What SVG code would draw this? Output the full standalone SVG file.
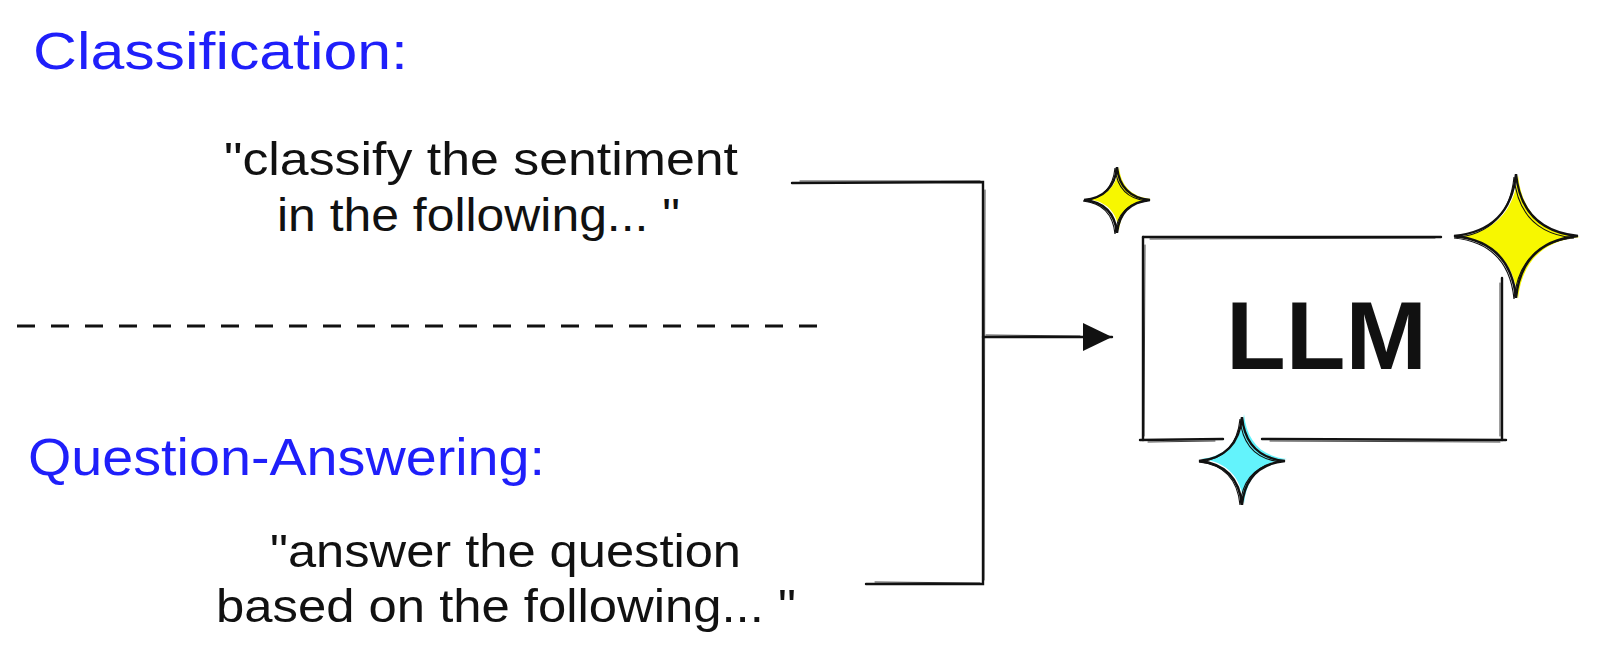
<svg xmlns="http://www.w3.org/2000/svg" xmlns:xlink="http://www.w3.org/1999/xlink" width="1597" height="659" viewBox="0 0 1597 659">
<style>
.bg{fill:#ffffff}
.ln{fill:none;stroke:#111;stroke-width:2.4;stroke-linecap:round}
.ln2{fill:none;stroke:#111;stroke-width:1;stroke-linecap:round;opacity:0.8}
.head{font-family:"Liberation Sans","DejaVu Sans",sans-serif;font-size:52px;fill:#1f1ffa}
.txt{font-family:"Liberation Sans","DejaVu Sans",sans-serif;font-size:46px;fill:#111}
.llm{font-family:"Liberation Sans","DejaVu Sans",sans-serif;font-size:96px;font-weight:bold;fill:#111}
.dash{fill:none;stroke:#111;stroke-width:3;stroke-dasharray:18 16}
.sfill{stroke:none}
.sline{fill:none;stroke:#111;stroke-width:2.4}
.sline2{fill:none;stroke:#111;stroke-width:1.1}
</style>
<defs>
<path id="star" vector-effect="non-scaling-stroke" d="M0,-1 C0.06,-0.4 0.4,-0.06 1,0 C0.4,0.06 0.06,0.4 0,1 C-0.06,0.4 -0.4,0.06 -1,0 C-0.4,-0.06 -0.06,-0.4 0,-1 Z"/>
<marker id="arrow" markerUnits="userSpaceOnUse" markerWidth="32" markerHeight="32" refX="29" refY="14" orient="auto">
<path d="M0,0 L29,14 L0,28 Z" fill="#111"/>
</marker>
</defs>
<rect class="bg" x="0" y="0" width="1597" height="659"/>

<g id="label-classification">
<text class="head" x="33" y="69" textLength="375" lengthAdjust="spacingAndGlyphs">Classification:</text>
</g>
<g id="prompt-classification">
<text class="txt" x="224" y="175" textLength="514" lengthAdjust="spacingAndGlyphs">"classify the sentiment</text>
<text class="txt" x="277" y="231" textLength="403" lengthAdjust="spacingAndGlyphs">in the following... "</text>
</g>

<g id="divider">
<line class="dash" x1="17" y1="326" x2="817" y2="326"/>
</g>

<g id="label-qa">
<text class="head" x="28" y="475" textLength="517" lengthAdjust="spacingAndGlyphs">Question-Answering:</text>
</g>
<g id="prompt-qa">
<text class="txt" x="270" y="567" textLength="471" lengthAdjust="spacingAndGlyphs">"answer the question</text>
<text class="txt" x="216" y="622" textLength="580" lengthAdjust="spacingAndGlyphs">based on the following... "</text>
</g>

<g id="connectors">
<path class="ln" d="M792,183 L983,182 L983,584 L866,584"/>
<path class="ln2" d="M800,181 L980,181 M985,190 L984,580 M875,582 L980,583"/>
<line class="ln" x1="983" y1="337" x2="1112" y2="337" marker-end="url(#arrow)"/>
<line class="ln2" x1="986" y1="335" x2="1080" y2="336"/>
</g>

<g id="llm">
<path class="ln" d="M1143,237 L1441,237"/>
<path class="ln" d="M1143,237 L1143,440"/>
<path class="ln" d="M1140,440 L1223,439"/>
<path class="ln" d="M1262,439 L1506,440"/>
<path class="ln" d="M1502,278 L1502,440"/>
<path class="ln2" d="M1150,239 L1435,238 M1145,245 L1144,436 M1148,442 L1215,441 M1270,441 L1500,442 M1500,283 L1500,436"/>
<text class="llm" x="1226" y="369" textLength="201" lengthAdjust="spacingAndGlyphs">LLM</text>
</g>

<g id="star-small">
<use xlink:href="#star" href="#star" class="sfill" fill="#f7f700" transform="translate(1119,199) scale(32)"/>
<use xlink:href="#star" href="#star" class="sline" transform="translate(1117,200) scale(33)"/>
<use xlink:href="#star" href="#star" class="sline2" transform="translate(1115,201) scale(32,33)"/>
</g>
<g id="star-large">
<use xlink:href="#star" href="#star" class="sfill" fill="#f7f700" transform="translate(1518,237) scale(62)"/>
<use xlink:href="#star" href="#star" class="sline" transform="translate(1516,236) scale(62)"/>
<use xlink:href="#star" href="#star" class="sline2" transform="translate(1514,238) scale(60,61)"/>
</g>
<g id="star-cyan">
<use xlink:href="#star" href="#star" class="sfill" fill="#63f3fc" transform="translate(1244,459) scale(43,45)"/>
<use xlink:href="#star" href="#star" class="sline" transform="translate(1242,461) scale(43,44)"/>
<use xlink:href="#star" href="#star" class="sline2" transform="translate(1240,462) scale(41,43)"/>
</g>
</svg>
